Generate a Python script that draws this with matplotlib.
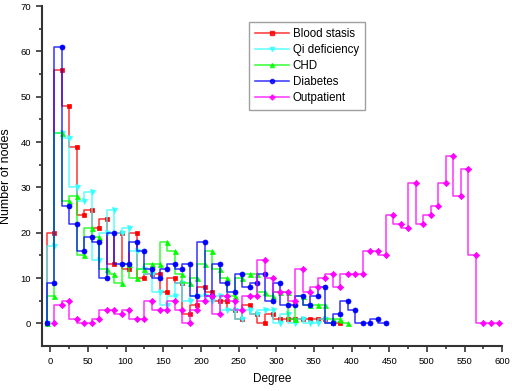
import numpy as np
import matplotlib as mpl
mpl.use("Agg")
import matplotlib.pyplot as plt

mpl.rcParams['font.family'] = ['Liberation Sans', 'DejaVu Sans']

# degree bins (bin centres, width 10)
degree = np.arange(-5, 600, 10)

blood_stasis = [0, 20, 56, 48, 39, 24, 25, 21, 23, 13, 20, 12, 20, 10, 11, 11, 7, 10, 9, 2,
                4, 8, 7, 5, 5, 3, 1, 4, 2, 0, 2, 1, 1, 1, 1, 1, 1, 1, 0, 0]
qi_deficiency = [0, 17, 42, 41, 30, 27, 29, 14, 20, 25, 20, 21, 16, 12, 11, 7, 4, 6, 9, 5,
                 6, 6, 5, 6, 3, 3, 1, 3, 2, 3, 3, 0, 2, 0, 1, 0, 0, 1, 0]
chd = [0, 6, 42, 27, 28, 15, 21, 19, 12, 11, 9, 13, 10, 12, 13, 13, 18, 16, 11, 9,
       10, 13, 16, 12, 10, 6, 10, 11, 11, 7, 6, 7, 7, 1, 6, 4, 4, 4, 1, 1, 0]
diabetes = [0, 9, 61, 26, 22, 16, 19, 18, 10, 20, 13, 13, 18, 16, 12, 10, 12, 13, 12, 13,
            6, 18, 6, 13, 9, 7, 11, 8, 9, 11, 5, 9, 4, 4, 6, 4, 6, 8, 0, 2, 5, 3, 0, 0, 1, 0]
outpatient = [0, 4, 5, 1, 0, 0, 1, 3, 3, 2, 3, 1, 1, 5, 3, 3, 5, 3, 0, 3,
              5, 6, 2, 6, 5, 3, 6, 6, 14, 10, 7, 7, 5, 12, 7, 8, 10, 11, 8, 11,
              11, 11, 16, 16, 15, 24, 22, 21, 31, 22, 24, 26, 31, 37, 28, 34, 15, 0, 0, 0]

series = [
    ('Blood stasis', blood_stasis, 0, '#FF0000', 's', 3.2),
    ('Qi deficiency', qi_deficiency, 0, '#33FFFF', 'v', 3.6),
    ('CHD', chd, 0, '#00FF00', '^', 3.6),
    ('Diabetes', diabetes, 0, '#0000FF', 'o', 3.6),
    ('Outpatient', outpatient, 1, '#FF00FF', 'D', 3.2),
]

fig = plt.figure(figsize=(5.12, 3.91), dpi=100)
ax = fig.add_axes([0.0826, 0.115, 0.8984, 0.8695])

for name, vals, start, col, mk, ms in series:
    x = degree[start:start + len(vals)]
    ax.plot(x, vals, drawstyle='steps-pre', color=col, lw=1.1, alpha=0.8)
    ax.plot(x, vals, ls='none', marker=mk, color=col, ms=ms, mec=col, mew=0.5)
    # legend proxy
    ax.plot([], [], color=col, lw=1.1, alpha=0.8, marker=mk, ms=ms - 0.6, label=name)

ax.set_xlim(-10.6, 600)
ax.set_ylim(-5, 70)
ax.set_xticks(np.arange(0, 601, 50))
ax.set_xticks(np.arange(25, 600, 50), minor=True)
ax.set_yticks(np.arange(0, 71, 10))
ax.set_yticks(np.arange(5, 70, 10), minor=True)

ax.spines['right'].set_visible(False)
ax.spines['top'].set_visible(False)
for s in ['left', 'bottom']:
    ax.spines[s].set_linewidth(1.5)
    ax.spines[s].set_color('#333333')
ax.tick_params(which='major', direction='out', length=4, width=1.2, labelsize=6.8,
               color='#333333', pad=4)
ax.tick_params(which='minor', direction='out', length=2.5, width=1.2, color='#333333')

ax.set_xlabel('Degree', fontsize=8.5, labelpad=5)
ax.set_ylabel('Number of nodes', fontsize=9, labelpad=6)

ax.legend(loc='upper left', bbox_to_anchor=(0.449, 0.953), fontsize=8.3, frameon=True,
          fancybox=False, edgecolor='#888888', handlelength=3, labelspacing=0.35,
          borderpad=0.5, handletextpad=0.3, borderaxespad=0)

fig.savefig('out.png', dpi=100)
